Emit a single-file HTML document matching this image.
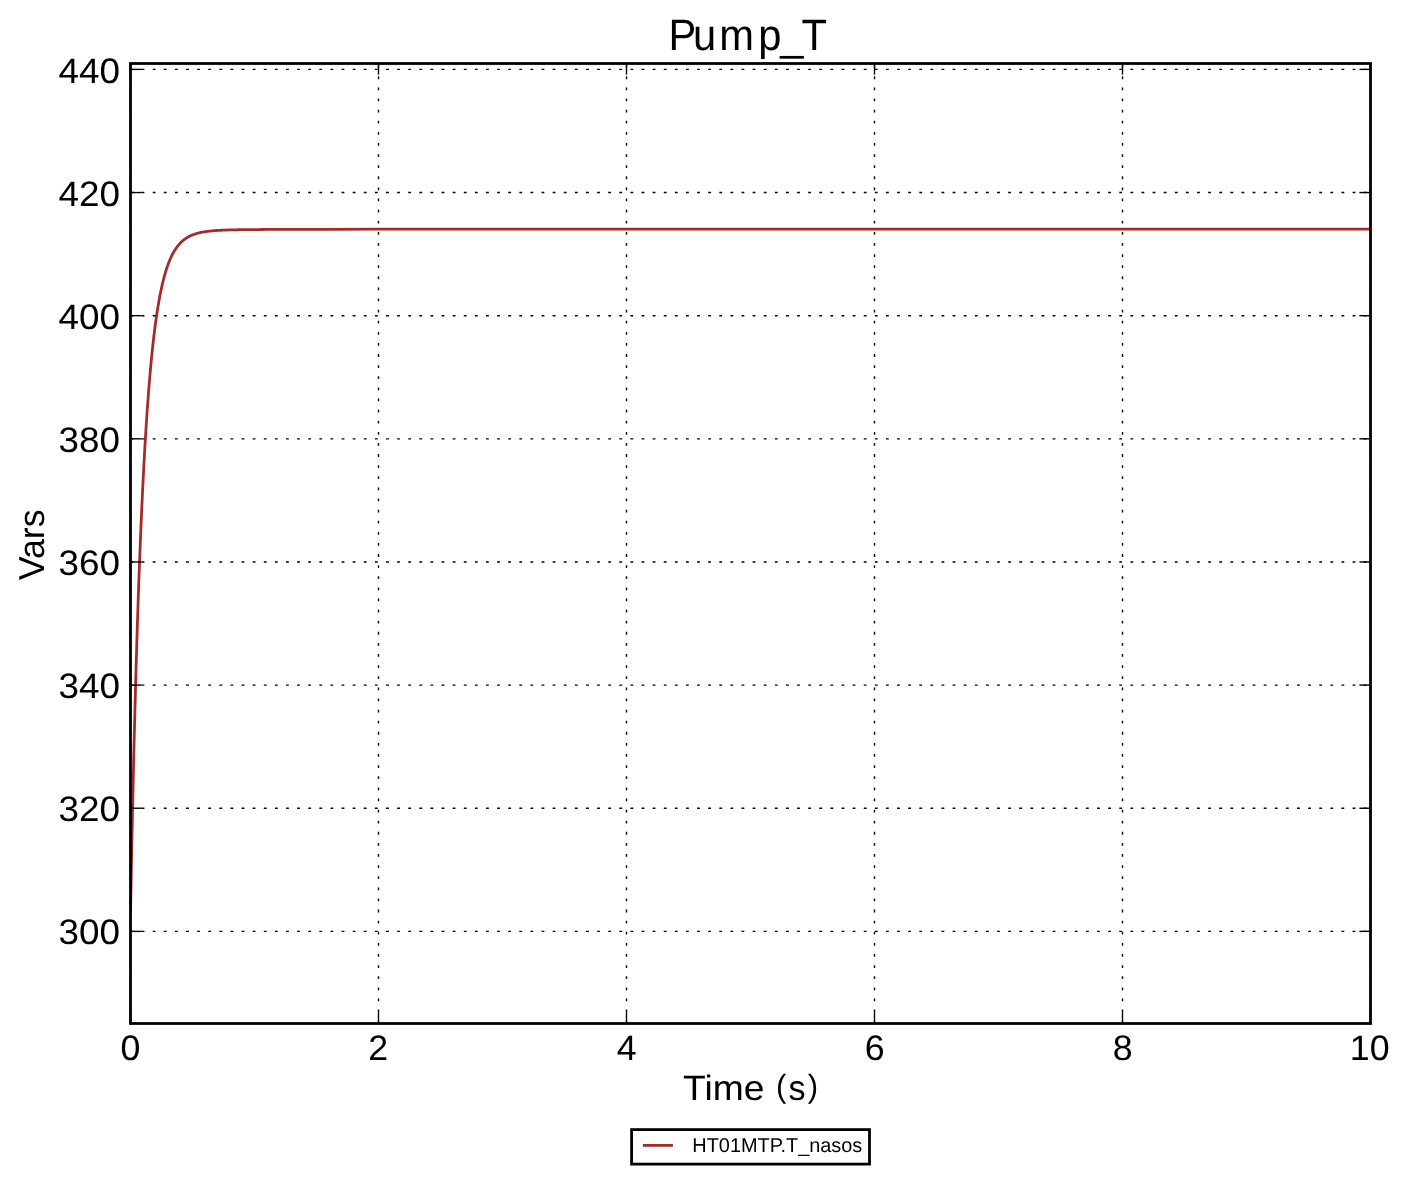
<!DOCTYPE html>
<html><head><meta charset="utf-8"><title>Pump_T</title><style>
html,body{margin:0;padding:0;background:#fff;}
body{width:1408px;height:1184px;overflow:hidden;}
svg{display:block;will-change:transform;}
text{font-family:"Liberation Sans",sans-serif;fill:#000;text-rendering:geometricPrecision;}
</style></head><body>
<svg width="1408" height="1184" viewBox="0 0 1408 1184">
<rect x="0" y="0" width="1408" height="1184" fill="#fff"/>
<defs><clipPath id="ax"><rect x="130.5" y="63.5" width="1240.0" height="960.0"/></clipPath></defs>
<g clip-path="url(#ax)"><path d="M130.50,913.61 L130.62,906.88 L130.75,900.22 L130.87,893.62 L131.00,887.09 L131.12,880.62 L131.24,874.22 L131.37,867.87 L131.49,861.60 L131.62,855.38 L131.74,849.22 L131.86,843.13 L131.99,837.09 L132.11,831.12 L132.24,825.20 L132.36,819.34 L132.48,813.54 L132.61,807.80 L132.73,802.11 L132.86,796.48 L132.98,790.91 L133.10,785.39 L133.23,779.92 L133.35,774.51 L133.48,769.15 L133.60,763.84 L133.72,758.59 L133.85,753.39 L133.97,748.24 L134.10,743.14 L134.22,738.09 L134.34,733.09 L134.47,728.14 L134.59,723.24 L134.72,718.38 L134.84,713.58 L134.96,708.82 L135.09,704.11 L135.21,699.44 L135.34,694.82 L135.46,690.25 L135.58,685.72 L135.71,681.24 L135.83,676.80 L135.96,672.40 L136.08,668.05 L136.20,663.74 L136.33,659.47 L136.45,655.25 L136.58,651.06 L136.70,646.92 L136.82,642.82 L136.95,638.76 L137.07,634.74 L137.20,630.76 L137.32,626.82 L137.44,622.91 L137.57,619.05 L137.69,615.22 L137.82,611.43 L137.94,607.68 L138.44,593.04 L138.93,578.97 L139.43,565.44 L139.92,552.44 L140.42,539.94 L140.92,527.93 L141.41,516.39 L141.91,505.29 L142.40,494.62 L142.90,484.37 L143.40,474.52 L143.89,465.05 L144.39,455.94 L144.88,447.19 L145.38,438.78 L145.88,430.70 L146.37,422.93 L146.87,415.46 L147.36,408.28 L147.86,401.38 L148.36,394.74 L148.85,388.37 L149.35,382.24 L149.84,376.35 L150.34,370.69 L150.84,365.24 L151.33,360.01 L151.83,354.98 L152.32,350.15 L152.82,345.51 L153.32,341.04 L153.81,336.75 L154.31,332.62 L154.80,328.65 L155.30,324.84 L155.80,321.18 L156.29,317.65 L156.79,314.27 L157.28,311.01 L157.78,307.88 L158.28,304.87 L158.77,301.98 L159.27,299.20 L159.76,296.53 L160.26,293.96 L160.76,291.49 L161.25,289.12 L161.75,286.84 L162.24,284.65 L162.74,282.54 L163.24,280.51 L163.73,278.56 L164.23,276.69 L164.72,274.89 L165.22,273.16 L165.72,271.49 L166.21,269.89 L166.71,268.36 L167.20,266.88 L167.70,265.46 L168.20,264.09 L168.69,262.77 L169.19,261.51 L169.68,260.30 L170.18,259.13 L170.68,258.01 L171.17,256.93 L171.67,255.89 L172.16,254.89 L172.66,253.93 L173.16,253.01 L173.65,252.13 L174.15,251.27 L174.64,250.45 L175.14,249.67 L175.64,248.91 L176.13,248.18 L176.63,247.48 L177.12,246.81 L177.62,246.16 L178.12,245.53 L178.61,244.94 L179.11,244.36 L179.60,243.81 L180.10,243.27 L180.60,242.76 L181.09,242.27 L181.59,241.79 L182.08,241.34 L182.58,240.90 L183.08,240.48 L183.57,240.07 L184.07,239.68 L184.56,239.31 L185.06,238.95 L185.56,238.60 L186.05,238.27 L186.55,237.95 L187.04,237.64 L187.54,237.34 L188.04,237.06 L188.53,236.78 L189.03,236.52 L189.52,236.26 L190.02,236.02 L190.52,235.78 L191.01,235.55 L191.51,235.34 L192.00,235.13 L192.50,234.92 L193.00,234.73 L193.49,234.54 L193.99,234.36 L194.48,234.19 L194.98,234.02 L195.48,233.86 L195.97,233.71 L196.47,233.56 L196.96,233.42 L197.46,233.28 L197.96,233.15 L198.45,233.02 L198.95,232.90 L199.44,232.78 L199.94,232.66 L200.44,232.55 L200.93,232.45 L201.43,232.35 L201.92,232.25 L202.42,232.15 L202.92,232.06 L203.41,231.98 L203.91,231.89 L204.40,231.81 L204.90,231.73 L205.40,231.66 L205.89,231.58 L206.39,231.51 L206.88,231.45 L207.38,231.38 L207.88,231.32 L208.37,231.26 L208.87,231.20 L209.36,231.14 L209.86,231.09 L210.36,231.04 L210.85,230.99 L211.35,230.94 L211.84,230.89 L212.34,230.85 L212.84,230.80 L213.33,230.76 L213.83,230.72 L214.32,230.68 L214.82,230.64 L215.32,230.60 L215.81,230.57 L216.31,230.54 L216.80,230.50 L217.30,230.47 L217.80,230.44 L218.29,230.41 L218.79,230.38 L219.28,230.35 L219.78,230.33 L220.28,230.30 L220.77,230.28 L221.27,230.25 L221.76,230.23 L222.26,230.21 L222.76,230.18 L223.25,230.16 L223.75,230.14 L224.24,230.12 L224.74,230.10 L225.24,230.08 L225.73,230.07 L226.23,230.05 L226.72,230.03 L227.22,230.01 L227.72,230.00 L228.21,229.98 L228.71,229.97 L229.20,229.95 L229.70,229.94 L230.20,229.93 L230.69,229.91 L231.19,229.90 L231.68,229.89 L232.18,229.87 L232.68,229.86 L233.17,229.85 L233.67,229.84 L234.16,229.83 L234.66,229.82 L235.16,229.81 L235.65,229.80 L236.15,229.79 L236.64,229.78 L237.14,229.77 L237.64,229.76 L238.13,229.75 L238.63,229.74 L239.12,229.74 L239.62,229.73 L240.12,229.72 L240.61,229.71 L241.11,229.71 L241.60,229.70 L242.10,229.69 L242.60,229.68 L243.09,229.68 L243.59,229.67 L244.08,229.66 L244.58,229.66 L245.08,229.65 L245.57,229.65 L246.07,229.64 L246.56,229.63 L247.06,229.63 L247.56,229.62 L248.05,229.62 L248.55,229.61 L249.04,229.61 L249.54,229.60 L250.04,229.60 L250.53,229.59 L251.03,229.59 L251.52,229.58 L252.02,229.58 L252.52,229.57 L253.01,229.57 L253.51,229.56 L254.00,229.56 L254.50,229.56 L255.00,229.55 L255.49,229.55 L255.99,229.54 L256.48,229.54 L256.98,229.54 L257.48,229.53 L257.97,229.53 L258.47,229.53 L258.96,229.52 L259.46,229.52 L259.96,229.51 L260.45,229.51 L260.95,229.51 L261.44,229.50 L261.94,229.50 L262.44,229.50 L262.93,229.50 L263.43,229.49 L263.92,229.49 L264.42,229.49 L264.92,229.48 L265.41,229.48 L265.91,229.48 L266.40,229.47 L266.90,229.47 L267.40,229.47 L267.89,229.47 L268.39,229.46 L268.88,229.46 L269.38,229.46 L269.88,229.46 L270.37,229.45 L270.87,229.45 L271.36,229.45 L271.86,229.45 L272.36,229.44 L272.85,229.44 L273.35,229.44 L273.84,229.44 L274.34,229.43 L274.84,229.43 L275.33,229.43 L275.83,229.43 L276.32,229.43 L276.82,229.42 L277.32,229.42 L277.81,229.42 L278.31,229.42 L278.80,229.41 L279.30,229.41 L328.90,229.28 L378.50,229.22 L428.10,229.20 L477.70,229.18 L527.30,229.18 L576.90,229.18 L626.50,229.18 L676.10,229.17 L725.70,229.17 L775.30,229.17 L824.90,229.17 L874.50,229.17 L924.10,229.17 L973.70,229.17 L1023.30,229.17 L1072.90,229.17 L1122.50,229.17 L1172.10,229.17 L1221.70,229.17 L1271.30,229.17 L1320.90,229.17 L1370.50,229.17" fill="none" stroke="#a52a2a" stroke-width="2.78" stroke-linejoin="round" stroke-linecap="butt"/></g>
<g stroke="#000" stroke-width="1.39" stroke-dasharray="2.78 8.33" fill="none">
<line x1="130.5" y1="1023.5" x2="130.5" y2="63.5"/>
<line x1="378.5" y1="1023.5" x2="378.5" y2="63.5"/>
<line x1="626.5" y1="1023.5" x2="626.5" y2="63.5"/>
<line x1="874.5" y1="1023.5" x2="874.5" y2="63.5"/>
<line x1="1122.5" y1="1023.5" x2="1122.5" y2="63.5"/>
<line x1="1370.5" y1="1023.5" x2="1370.5" y2="63.5"/>
<line x1="130.5" y1="69.40" x2="1370.5" y2="69.40"/>
<line x1="130.5" y1="192.54" x2="1370.5" y2="192.54"/>
<line x1="130.5" y1="315.68" x2="1370.5" y2="315.68"/>
<line x1="130.5" y1="438.82" x2="1370.5" y2="438.82"/>
<line x1="130.5" y1="561.96" x2="1370.5" y2="561.96"/>
<line x1="130.5" y1="685.10" x2="1370.5" y2="685.10"/>
<line x1="130.5" y1="808.24" x2="1370.5" y2="808.24"/>
<line x1="130.5" y1="931.38" x2="1370.5" y2="931.38"/>
</g>
<g stroke="#000" stroke-width="1.39" fill="none">
<line x1="130.5" y1="1023.5" x2="130.5" y2="1012.39"/>
<line x1="130.5" y1="63.5" x2="130.5" y2="74.61"/>
<line x1="378.5" y1="1023.5" x2="378.5" y2="1012.39"/>
<line x1="378.5" y1="63.5" x2="378.5" y2="74.61"/>
<line x1="626.5" y1="1023.5" x2="626.5" y2="1012.39"/>
<line x1="626.5" y1="63.5" x2="626.5" y2="74.61"/>
<line x1="874.5" y1="1023.5" x2="874.5" y2="1012.39"/>
<line x1="874.5" y1="63.5" x2="874.5" y2="74.61"/>
<line x1="1122.5" y1="1023.5" x2="1122.5" y2="1012.39"/>
<line x1="1122.5" y1="63.5" x2="1122.5" y2="74.61"/>
<line x1="1370.5" y1="1023.5" x2="1370.5" y2="1012.39"/>
<line x1="1370.5" y1="63.5" x2="1370.5" y2="74.61"/>
<line x1="130.5" y1="69.40" x2="141.61" y2="69.40"/>
<line x1="1370.5" y1="69.40" x2="1359.39" y2="69.40"/>
<line x1="130.5" y1="192.54" x2="141.61" y2="192.54"/>
<line x1="1370.5" y1="192.54" x2="1359.39" y2="192.54"/>
<line x1="130.5" y1="315.68" x2="141.61" y2="315.68"/>
<line x1="1370.5" y1="315.68" x2="1359.39" y2="315.68"/>
<line x1="130.5" y1="438.82" x2="141.61" y2="438.82"/>
<line x1="1370.5" y1="438.82" x2="1359.39" y2="438.82"/>
<line x1="130.5" y1="561.96" x2="141.61" y2="561.96"/>
<line x1="1370.5" y1="561.96" x2="1359.39" y2="561.96"/>
<line x1="130.5" y1="685.10" x2="141.61" y2="685.10"/>
<line x1="1370.5" y1="685.10" x2="1359.39" y2="685.10"/>
<line x1="130.5" y1="808.24" x2="141.61" y2="808.24"/>
<line x1="1370.5" y1="808.24" x2="1359.39" y2="808.24"/>
<line x1="130.5" y1="931.38" x2="141.61" y2="931.38"/>
<line x1="1370.5" y1="931.38" x2="1359.39" y2="931.38"/>
</g>
<rect x="130.5" y="63.5" width="1240.0" height="960.0" fill="none" stroke="#000" stroke-width="2.78"/>
<text transform="translate(120.05,83.00) scale(1.0410,1)" text-anchor="end" font-size="35.40">440</text>
<text transform="translate(120.05,206.00) scale(1.0410,1)" text-anchor="end" font-size="35.40">420</text>
<text transform="translate(120.05,329.00) scale(1.0410,1)" text-anchor="end" font-size="35.40">400</text>
<text transform="translate(120.05,452.00) scale(1.0410,1)" text-anchor="end" font-size="35.40">380</text>
<text transform="translate(120.05,575.00) scale(1.0410,1)" text-anchor="end" font-size="35.40">360</text>
<text transform="translate(120.05,698.00) scale(1.0410,1)" text-anchor="end" font-size="35.40">340</text>
<text transform="translate(120.05,821.00) scale(1.0410,1)" text-anchor="end" font-size="35.40">320</text>
<text transform="translate(120.05,944.00) scale(1.0410,1)" text-anchor="end" font-size="35.40">300</text>
<text transform="translate(130.50,1059.90) scale(1.0100,1)" text-anchor="middle" font-size="35.40">0</text>
<text transform="translate(378.20,1059.90) scale(1.0100,1)" text-anchor="middle" font-size="35.40">2</text>
<text transform="translate(626.70,1059.90) scale(1.0100,1)" text-anchor="middle" font-size="35.40">4</text>
<text transform="translate(874.65,1059.90) scale(1.0100,1)" text-anchor="middle" font-size="35.40">6</text>
<text transform="translate(1122.70,1059.90) scale(1.0100,1)" text-anchor="middle" font-size="35.40">8</text>
<text transform="translate(1369.70,1059.90) scale(1.0100,1)" text-anchor="middle" font-size="35.40">10</text>
<text transform="translate(682.39,49.9) scale(0.949,1)" text-anchor="middle" font-size="43.9">P</text>
<text transform="translate(704.48,49.9) scale(0.949,1)" text-anchor="middle" font-size="43.9">u</text>
<text transform="translate(736.69,49.9) scale(0.949,1)" text-anchor="middle" font-size="43.9">m</text>
<text transform="translate(769.83,49.9) scale(0.949,1)" text-anchor="middle" font-size="43.9">p</text>
<text transform="translate(791.93,49.9) scale(0.949,1)" text-anchor="middle" font-size="43.9">_</text>
<text transform="translate(814.26,49.9) scale(0.949,1)" text-anchor="middle" font-size="43.9">T</text>
<text transform="translate(683.06,1099.7) scale(1.054,1)" font-size="35.3">Time</text>
<text transform="translate(775.9,1097.16) scale(0.97,1)" font-size="32.1">(</text>
<text transform="translate(788.5,1099.7) scale(0.969,1)" font-size="35.3">s</text>
<text transform="translate(807.7,1097.16) scale(0.97,1)" font-size="32.1">)</text>
<text transform="translate(43.50,544.80) rotate(-90) scale(0.9950,1)" text-anchor="middle" font-size="36.00">Vars</text>
<rect x="631.6" y="1129.6" width="237.9" height="34.5" fill="#fff" stroke="#000" stroke-width="2.78"/>
<line x1="642.9" y1="1145.4" x2="672.9" y2="1145.4" stroke="#a52a2a" stroke-width="2.78"/>
<text transform="translate(692.30,1152.00) scale(0.9954,1)" text-anchor="start" font-size="20.00">HT01MTP.T_nasos</text>
</svg>
</body></html>
